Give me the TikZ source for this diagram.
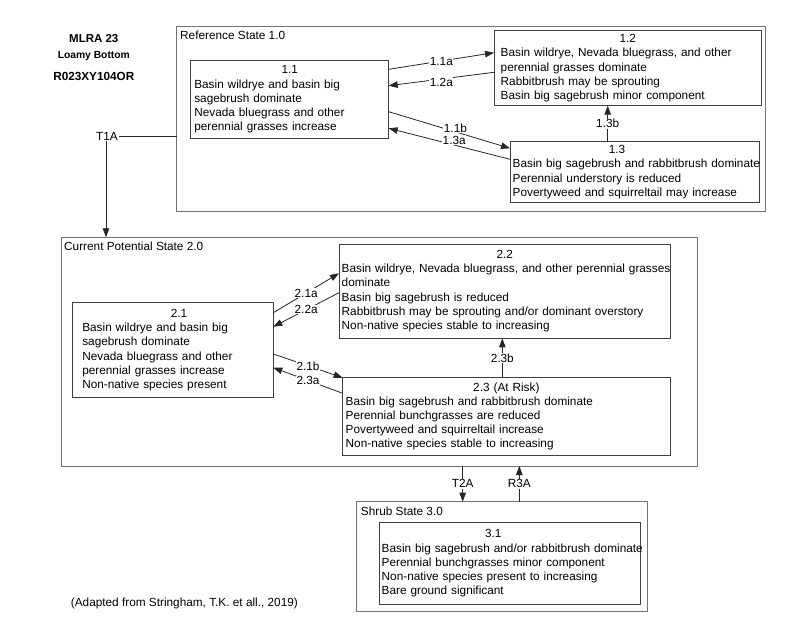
\documentclass[tikz,border=0pt]{standalone}
\usepackage{fontspec}
\setmainfont{Liberation Sans}
\usetikzlibrary{arrows.meta}
\newcommand\fsz{\fontsize{11.8}{14.2}\selectfont}
\begin{document}
\begin{tikzpicture}[x=1pt,y=-1pt,
  outerbox/.style={draw=black!55, line width=0.9pt, anchor=north west, inner sep=0pt, outer sep=0pt},
  commbox/.style={draw=black!75, line width=0.9pt, anchor=north west, align=left, font=\fsz, inner ysep=0pt, outer sep=0pt},
  statelbl/.style={anchor=west, inner sep=0pt, font=\fsz},
  conn/.style={draw=black!85, line width=0.8pt, -{Triangle[length=9pt,width=6.5pt]}},
  plain/.style={draw=black!85, line width=0.8pt},
  tlbl/.style={fill=white, inner sep=0.6pt, font=\fsz},
  ttl/.style={font=\bfseries, inner sep=0pt}
]
\path[use as bounding box] (0,0) rectangle (800,641);

% header
\node[ttl, font=\fontsize{11.5}{13}\selectfont\bfseries] (h1) at (93.8,39) {MLRA 23};
\node[ttl, font=\fontsize{10.3}{12}\selectfont\bfseries] (h2) at (93.8,56) {Loamy Bottom};
\node[ttl, font=\fontsize{11.75}{13}\selectfont\bfseries] (h3) at (93.8,76.7) {R023XY104OR};

% outer state boxes
\node[outerbox, minimum width=588.3pt, minimum height=185.7pt] (ref) at (176.7,26) {};
\node[outerbox, minimum width=636pt, minimum height=228.7pt] (cur) at (61.3,237.3) {};
\node[outerbox, minimum width=290.6pt, minimum height=110pt] (shrub) at (356.7,501.7) {};
\node[statelbl] (refl) at (180,35.7) {Reference State 1.0};
\node[statelbl] (curl) at (64,246) {Current Potential State 2.0};
\node[statelbl] (shrubl) at (360.7,511) {Shrub State 3.0};

% community boxes
\node[commbox, minimum width=198pt, minimum height=77.6pt, text width=190.8pt, inner xsep=3.6pt] (b11) at (190.7,60.7)
 {\makebox[\hsize]{1.1}\\\mbox{Basin wildrye and basin big}\\\mbox{sagebrush dominate}\\\mbox{Nevada bluegrass and other}\\\mbox{perennial grasses increase}};
\node[commbox, minimum width=267.7pt, minimum height=75pt, text width=254.3pt, inner xsep=6.7pt] (b12) at (494,30.7)
 {\makebox[\hsize]{1.2}\\\mbox{Basin wildrye, Nevada bluegrass, and other}\\\mbox{perennial grasses dominate}\\\mbox{Rabbitbrush may be sprouting}\\\mbox{Basin big sagebrush minor component}};
\node[commbox, minimum width=249pt, minimum height=60.6pt, text width=243.6pt, inner xsep=2.7pt] (b13) at (510,141.7)
 {\makebox[\hsize]{1.3\hspace*{35pt}}\\\mbox{Basin big sagebrush and rabbitbrush dominate}\\\mbox{Perennial understory is reduced}\\\mbox{Povertyweed and squirreltail may increase}};
\node[commbox, minimum width=200.6pt, minimum height=94.6pt, text width=181.4pt, inner xsep=9.6pt] (b21) at (72.7,302.7)
 {\makebox[\hsize]{\hspace*{12pt}2.1}\\\mbox{Basin wildrye and basin big}\\\mbox{sagebrush dominate}\\\mbox{Nevada bluegrass and other}\\\mbox{perennial grasses increase}\\\mbox{Non-native species present}};
\node[commbox, minimum width=331.7pt, minimum height=94.3pt, text width=326.3pt, inner xsep=2.7pt] (b22) at (339,244)
 {\makebox[\hsize]{2.2}\\\mbox{Basin wildrye, Nevada bluegrass, and other perennial grasses}\\\mbox{dominate}\\\mbox{Basin big sagebrush is reduced}\\\mbox{Rabbitbrush may be sprouting and/or dominant overstory}\\\mbox{Non-native species stable to increasing}};
\node[commbox, minimum width=327.3pt, minimum height=77.3pt, text width=321.3pt, inner xsep=3pt] (b23) at (342.7,377.7)
 {\makebox[\hsize]{2.3 (At Risk)}\\\mbox{Basin big sagebrush and rabbitbrush dominate}\\\mbox{Perennial bunchgrasses are reduced}\\\mbox{Povertyweed and squirreltail increase}\\\mbox{Non-native species stable to increasing}};
\node[commbox, minimum width=261.7pt, minimum height=81.3pt, text width=256.3pt, inner xsep=2.7pt] (b31) at (379,522.7)
 {\makebox[\hsize]{3.1\hspace*{33pt}}\\\mbox{Basin big sagebrush and/or rabbitbrush dominate}\\\mbox{Perennial bunchgrasses minor component}\\\mbox{Non-native species present to increasing}\\\mbox{Bare ground significant}};

% state 1 pathways
\draw[conn] (b11.east |- 0,69.3) -- node[tlbl]{1.1a} (b12.west |- 0,52.7);
\draw[conn] (b12.west |- 0,72.3) -- node[tlbl, yshift=-3pt]{1.2a} (b11.east |- 0,85.7);
\draw[conn] (b11.east |- 0,111.7) -- node[tlbl, pos=0.55, yshift=3.7pt]{1.1b} (b13.west |- 0,148.3);
\draw[conn] (b13.west |- 0,159.3) -- node[tlbl, pos=0.46, yshift=5pt]{1.3a} (b11.east |- 0,128.3);
\draw[conn] (607.7,0 |- b13.north) -- node[tlbl]{1.3b} (607.7,0 |- b12.south);

% state 2 pathways
\draw[conn] (b21.east |- 0,312.7) -- node[tlbl]{2.1a} (b22.west |- 0,273.3);
\draw[conn] (b22.west |- 0,292.7) -- node[tlbl]{2.2a} (b21.east |- 0,326.7);
\draw[conn] (b21.east |- 0,354) -- node[tlbl]{2.1b} (b23.north west);
\draw[conn] (b23.west |- 0,393.3) -- node[tlbl]{2.3a} (b21.east |- 0,367.7);
\draw[conn] (502.3,0 |- b23.north) -- node[tlbl]{2.3b} (502.3,0 |- b22.south);

% transitions
\node[font=\fsz, inner sep=1pt] (t1a) at (107,136) {T1A};
\draw[plain] (t1a.east) -- (ref.west |- t1a.east);
\draw[conn] (106,0 |- t1a.south) -- (106,0 |- cur.north);
\draw[conn] (462.7,0 |- cur.south) -- node[tlbl]{T2A} (462.7,0 |- shrub.north);
\draw[conn] (519.3,0 |- shrub.north) -- node[tlbl]{R3A} (519.3,0 |- cur.south);

% footnote
\node[statelbl] (foot) at (70.7,603) {(Adapted from Stringham, T.K. et all., 2019)};
\end{tikzpicture}
\end{document}
